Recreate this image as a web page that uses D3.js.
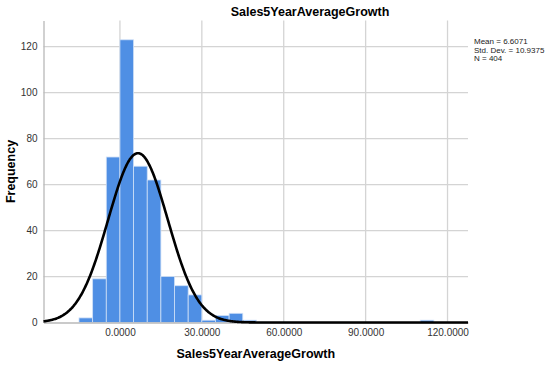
<!DOCTYPE html>
<html>
<head>
<meta charset="utf-8">
<script src="https://cdn.jsdelivr.net/npm/d3@7"></script>
<style>
	body { margin: 0; background: #fff; }
	svg { display: block; font-family: Arial, "Liberation Sans", sans-serif; }
</style>
</head>
<body>
<div id="chart"></div>
<script>
	// histogram bins (lower edge) and counts, bin width 5
	var binStarts = [-15, -10, -5, 0, 5, 10, 15, 20, 25, 30, 35, 40, 45, 110];
	var binCounts = [2, 19, 72, 123, 68, 62, 20, 16, 12, 1, 3, 4, 1, 1];
	var binWidth = 5;

	var xTicks = [0, 30, 60, 90, 120];
	var yTicks = [0, 20, 40, 60, 80, 100, 120];

	var stats = { mean: 6.6071, sd: 10.9375, n: 404 };
	var statLines = ["Mean = 6.6071", "Std. Dev. = 10.9375", "N = 404"];

	var titleText = "Sales5YearAverageGrowth";

	var width = 550, height = 365;
	var margin = { left: 43.5, right: 82, top: 20.5, bottom: 42.5 };
	var graphwidth = width - margin.left - margin.right;
	var graphheight = height - margin.top - margin.bottom;

	var svg = d3.select("#chart").append("svg")
		.attr("width", width)
		.attr("height", height);

	var xScale = d3.scaleLinear().domain([-28, 127.5]).range([0, graphwidth]);
	var yScale = d3.scaleLinear().domain([0, 131.4]).range([graphheight, 0]);

	var plot = svg.append("g")
		.attr("transform", `translate(${margin.left},${margin.top})`);

	// grid
	plot.append("g").selectAll("line.h")
		.data(yTicks.slice(1))
		.join("line")
		.attr("x1", 0).attr("x2", graphwidth)
		.attr("y1", d => yScale(d)).attr("y2", d => yScale(d))
		.attr("stroke", "#d4d4d4").attr("stroke-width", 1.3);

	plot.append("g").selectAll("line.v")
		.data(xTicks)
		.join("line")
		.attr("x1", d => xScale(d)).attr("x2", d => xScale(d))
		.attr("y1", 0).attr("y2", graphheight)
		.attr("stroke", "#d4d4d4").attr("stroke-width", 1.3);

	// bars
	var bins = binStarts.map((s, i) => ({ x0: s, x1: s + binWidth, count: binCounts[i] }));
	plot.append("g").selectAll("rect")
		.data(bins)
		.join("rect")
		.attr("x", d => xScale(d.x0))
		.attr("width", d => xScale(d.x1) - xScale(d.x0))
		.attr("y", d => yScale(d.count))
		.attr("height", d => graphheight - yScale(d.count))
		.attr("fill", "#4f8fe4")
		.attr("stroke", "#cfe0f7")
		.attr("stroke-width", 0.8);

	// axes
	var xAxis = plot.append("g")
		.attr("transform", `translate(0,${graphheight})`)
		.call(d3.axisBottom(xScale).tickValues(xTicks).tickFormat(d3.format(".4f")).tickSize(0).tickPadding(6));
	var yAxis = plot.append("g")
		.call(d3.axisLeft(yScale).tickValues(yTicks).tickSize(0).tickPadding(6));

	[xAxis, yAxis].forEach(function(ax){
		ax.select(".domain").attr("stroke", "#b8b8b8").attr("stroke-width", 1.3);
		ax.selectAll("text")
			.attr("fill", "#333")
			.style("font-size", "10px")
			.style("font-family", "Arial, 'Liberation Sans', sans-serif");
	});

	// normal curve from the summary stats
	var normal = function(x){
		var z = (x - stats.mean) / stats.sd;
		return stats.n * binWidth / (stats.sd * Math.sqrt(2 * Math.PI)) * Math.exp(-0.5 * z * z);
	};
	var curveX = d3.range(xScale.domain()[0], xScale.domain()[1] + 0.01, 0.25);
	var drawline = d3.line()
		.x(d => xScale(d))
		.y(d => yScale(normal(d)))
		.curve(d3.curveBasis);
	plot.append("path")
		.attr("d", drawline(curveX))
		.attr("fill", "none")
		.attr("stroke", "#000")
		.attr("stroke-width", 2.6);

	// titles
	svg.append("text")
		.attr("x", 310)
		.attr("y", 16)
		.attr("text-anchor", "middle")
		.style("font-size", "12.5px")
		.style("font-weight", "bold")
		.text(titleText);

	svg.append("text")
		.attr("x", margin.left + graphwidth / 2)
		.attr("y", 358)
		.attr("text-anchor", "middle")
		.style("font-size", "12.5px")
		.style("font-weight", "bold")
		.text(titleText);

	svg.append("text")
		.attr("transform", `translate(15,${margin.top + graphheight / 2}) rotate(-90)`)
		.attr("text-anchor", "middle")
		.style("font-size", "12.5px")
		.style("font-weight", "bold")
		.text("Frequency");

	// stats box
	svg.append("g").selectAll("text")
		.data(statLines)
		.join("text")
		.attr("x", 474)
		.attr("y", (d, i) => 44 + i * 8.6)
		.attr("fill", "#222")
		.style("font-size", "8px")
		.text(d => d);
</script>
</body>
</html>
